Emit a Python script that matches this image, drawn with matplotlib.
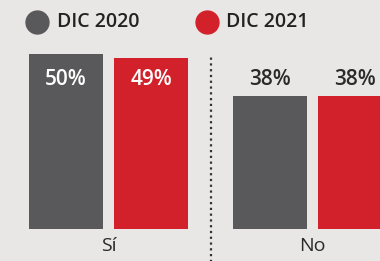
import matplotlib.pyplot as plt
import numpy as np

plt.rcParams['font.family'] = ['Open Sans', 'DejaVu Sans']

categories = ['Sí', 'No']
series = ['DIC 2020', 'DIC 2021']
dic_2020 = [50, 38]
dic_2021 = [49, 38]

bg = '#e9e7e5'
gray = '#59595b'
red = '#d3212b'

fig = plt.figure(figsize=(3.8, 2.61), dpi=100, facecolor=bg)
ax = fig.add_axes([0, 32 / 261, 1, 229 / 261])
ax.set_facecolor(bg)

x = np.arange(len(categories))
off = 0.2083
w = 0.363
ax.bar(x - off, dic_2020, w, color=gray)
ax.bar(x + off, dic_2021, w, color=red)

ax.set_xlim(-0.532, 1.331)
ax.set_ylim(0, 65.43)
ax.axis('off')

# percent labels: inside for first group, above for second
label_y = 42.6
for i in range(len(categories)):
    inside = i == 0
    col = 'white' if inside else '#2a2a2a'
    ax.text(x[i] - off, label_y, f'{dic_2020[i]}%', ha='center', va='center',
            fontsize=15, fontweight='semibold', color=col)
    ax.text(x[i] + off, label_y, f'{dic_2021[i]}%', ha='center', va='center',
            fontsize=15, fontweight='semibold', color=col)

for i, c in enumerate(categories):
    ax.text(x[i], -5.0, c, ha='center', va='center', fontsize=14,
            color='#2a2a2a', clip_on=False)

# dotted separator
ax.plot([0.502, 0.502], [-9.5, 49.7], linestyle=(0, (1, 1.6)),
        color='#333333', linewidth=1.6, clip_on=False)

# legend
for xc, name, col in [(36.7, series[0], gray), (206.5, series[1], red)]:
    fig.lines.append(plt.Line2D([xc / 380], [1 - 21.5 / 261], marker='o',
                                markersize=16.5, color=col, linestyle='none',
                                transform=fig.transFigure))
    fig.text((xc + 20) / 380, 1 - 22 / 261, name, ha='left', va='center',
             fontsize=14, fontweight='semibold', color='#222222')

fig.savefig('out.png', dpi=100, facecolor=bg)
